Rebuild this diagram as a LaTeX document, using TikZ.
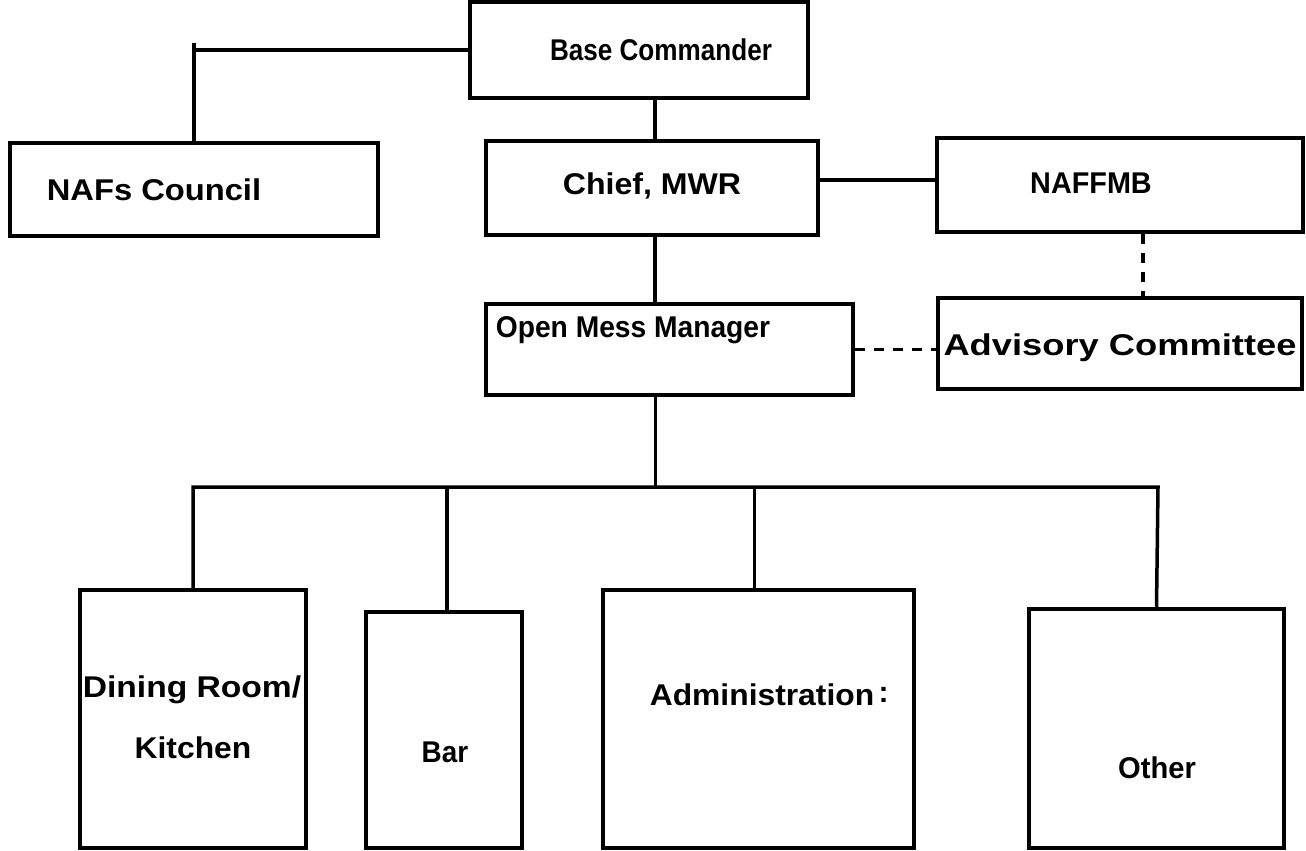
\documentclass[tikz,border=0pt]{standalone}
\usepackage{graphicx}
\usepackage{fontspec}
\setmainfont{Liberation Sans}
\newcommand{\sx}[2]{\scalebox{#1}[1]{#2}}
\begin{document}
\begin{tikzpicture}[x=1pt,y=-1pt,
  box/.style={draw, line width=4.5pt, inner sep=0pt},
  conn/.style={line width=3.5pt},
  dconn/.style={line width=3.5pt, dash pattern=on 10pt off 9pt},
  lbl/.style={inner sep=0pt, font=\bfseries\fontsize{30}{36}\selectfont}]
\useasboundingbox (0,0) rectangle (1306,851);
% boxes
\node[box, minimum width=338pt, minimum height=96pt] (bc) at (639,50) {};
\node[box, minimum width=368pt, minimum height=93pt] (naf) at (194,189.5) {};
\node[box, minimum width=332pt, minimum height=94pt] (chief) at (652,188) {};
\node[box, minimum width=366pt, minimum height=94pt] (naffmb) at (1120,185) {};
\node[box, minimum width=367pt, minimum height=91pt] (omm) at (669.5,349.5) {};
\node[box, minimum width=364pt, minimum height=91pt] (adv) at (1120,343.5) {};
\node[box, minimum width=226pt, minimum height=258pt] (dining) at (193,719) {};
\node[box, minimum width=156pt, minimum height=236pt] (bar) at (444,730) {};
\node[box, minimum width=311pt, minimum height=258pt] (admin) at (758.5,719) {};
\node[box, minimum width=255pt, minimum height=239pt] (other) at (1156.5,728.5) {};
% labels
\node[lbl] (tbc) at (661,50) {\sx{0.87}{Base Commander}};
\node[lbl] (tnaf) at (154,190) {\sx{1.09}{NAFs Council}};
\node[lbl] (tchief) at (652,186) {\sx{1.07}{Chief, MWR}};
\node[lbl] (tnaffmb) at (1091,183) {\sx{0.96}{NAFFMB}};
\node[lbl] (tomm) at (633,330) {\sx{0.94}{Open Mess Manager}};
\node[lbl] (tadv) at (1120,348) {\sx{1.21}{Advisory Committee}};
\node[lbl] (tdin1) at (192,690) {\sx{1.12}{Dining Room/}};
\node[lbl] (tdin2) at (193,748) {\sx{1.06}{Kitchen}};
\node[lbl] (tbar) at (445,752) {\sx{0.93}{Bar}};
\node[lbl] (tadm) at (762,695) {\sx{1.06}{Administration}};
\node[lbl, anchor=west] (tcolon) at ([xshift=4pt]tadm.east) {:};
\node[lbl] (toth) at (1157,768) {\sx{0.97}{Other}};
% connectors
\coordinate (busL) at (193,487);
\coordinate (busR) at (1158,487);
\draw[conn] (bc.west) -| (naf.north);
\draw[conn] (naf.north |- bc.west) -- ++(0,-7);
\draw[conn] ([xshift=16pt]bc.south) -- ([xshift=16pt]bc.south |- chief.north);
\draw[conn] ([yshift=8pt]chief.east) -- ([yshift=8pt]chief.east -| naffmb.west);
\draw[conn] ([xshift=3pt]chief.south) -- ([xshift=3pt]chief.south |- omm.north);
\draw[dconn] ([xshift=23pt]naffmb.south) -- ([xshift=23pt]naffmb.south |- adv.north);
\draw[dconn] (omm.east) -- (omm.east -| adv.west);
\draw[conn] ([xshift=-14pt]omm.south) -- ([xshift=-14pt]omm.south |- busL);
\draw[conn] (dining.north) |- (busR) -- (other.north);
\draw[conn] ([xshift=3pt]bar.north) -- ([xshift=3pt]bar.north |- busL);
\draw[conn] ([xshift=-4pt]admin.north) -- ([xshift=-4pt]admin.north |- busL);
\end{tikzpicture}
\end{document}
